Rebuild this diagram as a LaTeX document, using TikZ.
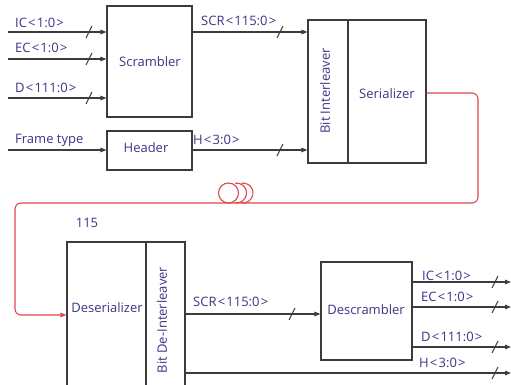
\documentclass[tikz,border=0pt]{standalone}
\usepackage{fontspec}
\setmainfont{Open Sans}
\usetikzlibrary{arrows.meta}
\definecolor{txt}{HTML}{3A3585}
\definecolor{ln}{HTML}{3C3C3C}
\definecolor{fib}{HTML}{E0474C}
\newcommand{\blt}{\kern1.2pt<\kern1.2pt}
\newcommand{\bgt}{\kern1.2pt>}
\begin{document}
\begin{tikzpicture}[x=1pt,y=-1pt,
  box/.style={draw=ln,line width=1.1pt,inner sep=0pt,text=txt},
  lbl/.style={text=txt,inner sep=0pt,font=\fontsize{13}{15}\selectfont},
  wire/.style={draw=ln,line width=1.1pt},
  arr/.style={wire,-{Triangle[length=6pt,width=4.5pt]}},
  fibre/.style={draw=fib,line width=1.1pt,rounded corners=6pt},
  slashmark/.pic={\draw[ln,line width=1pt] (-3,6)--(3,-6);}]
\useasboundingbox (0,0) rectangle (511,385);
\clip (0,0) rectangle (511,385);
% boxes
\node[box,minimum width=85pt,minimum height=111pt] (scr) at (149.5,61.5) {};
\node[lbl] (scrt) at (150,61.5) {Scrambler};
\node[box,minimum width=85pt,minimum height=39pt] (hdr) at (149.5,150.5) {};
\node[lbl] (hdrt) at (146,148) {Header};
\node[box,minimum width=40pt,minimum height=143pt] (bil) at (328,91.5) {};
\node[lbl,rotate=90] (bilt) at (325,91) {Bit Interleaver};
\node[box,minimum width=78pt,minimum height=143pt] (ser) at (387,91.5) {};
\node[lbl] (sert) at (387,94) {Serializer};
\node[box,minimum width=79pt,minimum height=160pt] (des) at (106.5,322) {};
\node[lbl] (dest) at (107,308) {Deserializer};
\node[box,minimum width=39pt,minimum height=160pt] (bdi) at (165.5,322) {};
\node[lbl,rotate=90] (bdit) at (162,320) {Bit De-Interleaver};
\node[box,minimum width=91pt,minimum height=98pt] (dsc) at (366.5,311) {};
\node[lbl] (dsct) at (366,310) {Descrambler};
% input labels
\node[lbl,anchor=west] (l1) at (15,23) {IC\blt1:0\bgt};
\node[lbl,anchor=west] (l2) at (15,47.5) {EC\blt1:0\bgt};
\node[lbl,anchor=west] (l3) at (15,87.5) {D\blt111:0\bgt};
\node[lbl,anchor=west] (l4) at (15,140) {Frame type};
\node[lbl,anchor=west] (l5) at (201,21) {SCR\blt115:0\bgt};
\node[lbl,anchor=west] (l6) at (193,140) {H\blt3:0\bgt};
\node[lbl] (l7) at (87,223) {115};
\node[lbl,anchor=west] (l8) at (193,302) {SCR\blt115:0\bgt};
\node[lbl,anchor=west] (o1) at (422,276) {IC\blt1:0\bgt};
\node[lbl,anchor=west] (o2) at (421,297) {EC\blt1:0\bgt};
\node[lbl,anchor=west] (o3) at (421,337) {D\blt111:0\bgt};
\node[lbl,anchor=west] (o4) at (419,363) {H\blt3:0\bgt};
% free ends
\coordinate (i1) at (8,32);
\coordinate (i2) at (8,59);
\coordinate (i3) at (8,98);
\coordinate (i4) at (8,150);
\coordinate (e1) at (511,282);
\coordinate (e2) at (511,307);
\coordinate (e3) at (511,347);
\coordinate (e4) at (511,373);
% input wires
\draw[arr] (i1) -- (scr.west |- i1);
\draw[arr] (i2) -- (scr.west |- i2);
\draw[arr] (i3) -- (scr.west |- i3);
\draw[arr] (i4) -- (hdr.west |- i4);
\path (89,32) pic{slashmark} (89,59) pic{slashmark} (89,98) pic{slashmark};
\draw[arr] (scr.east |- 0,32) -- (bil.west |- 0,32);
\draw[arr] (hdr.east |- 0,150) -- (bil.west |- 0,150);
\path (280,32) pic{slashmark} (280,150) pic{slashmark};
% fibre
\coordinate (c1) at (478,93);
\coordinate (c2) at (478,203);
\coordinate (c3) at (15,203);
\coordinate (c4) at (15,315);
\draw[fibre,-{Triangle[length=6pt,width=4.5pt]}] (ser.east |- c1) -- (c1) -- (c2) -- (c3) -- (c4) -- (des.west |- c4);
\draw[fib,line width=1.1pt] (228.5,193) circle[radius=10];
\draw[fib,line width=1.1pt] (236.5,193) ++(100:10) arc[start angle=100,end angle=-100,radius=10];
\draw[fib,line width=1.1pt] (243,193) ++(100:10) arc[start angle=100,end angle=-100,radius=10];
% lower wires
\draw[arr] (bdi.east |- 0,314) -- (dsc.west |- 0,314);
\path (292,314) pic{slashmark};
\draw[arr] (dsc.east |- e1) -- (e1);
\draw[arr] (dsc.east |- e2) -- (e2);
\draw[arr] (dsc.east |- e3) -- (e3);
\draw[arr] (bdi.east |- e4) -- (e4);
\path (495,282) pic{slashmark} (495,307) pic{slashmark} (495,347) pic{slashmark} (495,373) pic{slashmark};
\end{tikzpicture}
\end{document}
